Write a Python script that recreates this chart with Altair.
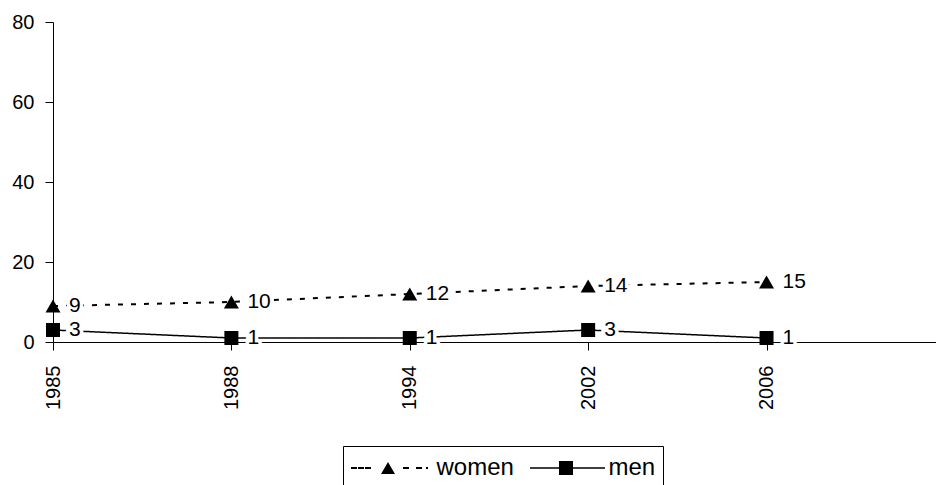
import altair as alt
import pandas as pd

years = ["1985", "1988", "1994", "2002", "2006"]
women = [9, 10, 12, 14, 15]
men = [3, 1, 1, 3, 1]
series_names = ["women", "men"]

rows = []
for i, y in enumerate(years):
    rows.append({"idx": i, "year": y, "series": "women", "value": women[i]})
    rows.append({"idx": i, "year": y, "series": "men", "value": men[i]})
df = pd.DataFrame(rows)

FONT = "Liberation Sans"
label_expr = "[" + ",".join("'%s'" % y for y in years) + "][datum.value]"

x = alt.X(
    "idx:Q",
    scale=alt.Scale(domain=[0, 4.95], nice=False, zero=False),
    axis=alt.Axis(
        title=None, values=[0, 1, 2, 3, 4], labelExpr=label_expr,
        labelAngle=-90, labelFont=FONT, labelFontSize=20, labelColor="black",
        labelPadding=15, tickSize=8, tickColor="black", domainColor="black",
        grid=False, labelFlush=False, labelOverlap=False,
    ),
)
y = alt.Y(
    "value:Q",
    scale=alt.Scale(domain=[0, 80], nice=False),
    axis=alt.Axis(
        title=None, values=[0, 20, 40, 60, 80], labelFont=FONT, labelFontSize=20,
        labelColor="black", labelPadding=11, tickSize=8, tickColor="black",
        domainColor="black", grid=False,
    ),
)

base = alt.Chart(df).encode(x=x, y=y)

lines = base.mark_line(color="black").encode(
    detail="series:N",
    strokeDash=alt.StrokeDash(
        "series:N",
        scale=alt.Scale(domain=series_names, range=[[5, 8], [1, 0]]),
        legend=None,
    ),
    strokeWidth=alt.StrokeWidth(
        "series:N",
        scale=alt.Scale(domain=series_names, range=[2, 1.5]),
        legend=None,
    ),
)


def seg(a, b, h):
    return "M%s,%sL%s,%sL%s,%sL%s,%sZ" % (a, -h, b, -h, b, h, a, h)


# legend glyphs (unit path scaled by 5 px); line pieces drawn as thin filled bars
women_path = (
    seg(-7.7, -6.5, 0.2) + seg(-6.3, -5.1, 0.2) + seg(-4.9, -3.7, 0.2)
    + seg(2.7, 3.9, 0.2) + seg(5.3, 6.5, 0.2) + seg(7.3, 7.7, 0.2)
    + "M-1.7,1.2L-0.3,-1.2L1.1,1.2Z"
)
men_path = seg(-6.3, 8.7, 0.15) + "M-0.5,-1.4L2.3,-1.4L2.3,1.4L-0.5,1.4Z"

legend = alt.Legend(
    title=None,
    orient="none",
    legendX=290,
    legendY=424,
    direction="horizontal",
    symbolSize=100,
    symbolOffset=27.5,
    labelOffset=35,
    columnPadding=8,
    padding=7,
    clipHeight=30,
    strokeColor="black",
    labelFont=FONT,
    labelFontSize=24,
    labelColor="black",
    labelExpr="datum.label == 'men' ? datum.label + '\u00a0\u00a0\u00a0' : datum.label",
    symbolStrokeWidth=0,
    symbolFillColor="black",
    symbolOpacity=1,
)

legend_layer = (
    alt.Chart(df)
    .transform_filter("false")
    .mark_point(filled=True, color="black", opacity=1)
    .encode(
        x=x,
        y=y,
        shape=alt.Shape(
            "series:N",
            scale=alt.Scale(domain=series_names, range=[women_path, men_path]),
            legend=legend,
        ),
    )
)

points = base.mark_point(filled=True, opacity=1, color="black").encode(
    shape=alt.Shape(
        "series:N",
        scale=alt.Scale(domain=series_names, range=["triangle-up", "square"]),
        legend=None,
    ),
    size=alt.Size(
        "series:N",
        scale=alt.Scale(domain=series_names, range=[225, 196]),
        legend=None,
    ),
)

halo = base.mark_text(
    align="left", baseline="middle", dx=16, font=FONT, fontSize=21,
    stroke="white", strokeWidth=7, fill="white",
).encode(text="value:Q")

labels = base.mark_text(
    align="left", baseline="middle", dx=16, font=FONT, fontSize=21, color="black",
).encode(text="value:Q")

chart = (
    alt.layer(lines, halo, labels, points, legend_layer)
    .resolve_scale(shape="independent", size="independent")
    .properties(
        width=883,
        height=320,
        autosize=alt.AutoSizeParams(type="none"),
        padding={"left": 53, "top": 22, "right": 0, "bottom": 143},
        background="white",
    )
    .configure_view(stroke=None)
)

chart.save("out.html", embed_options={"renderer": "svg", "actions": False})
